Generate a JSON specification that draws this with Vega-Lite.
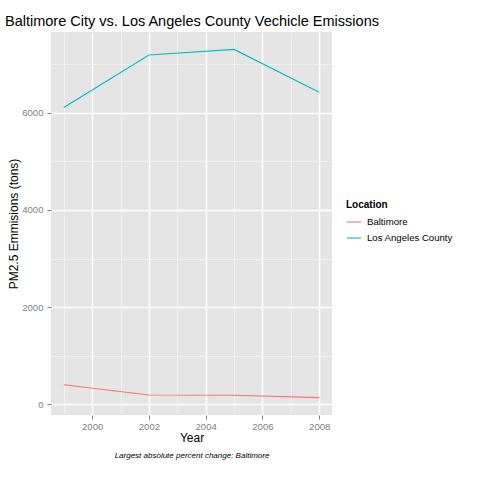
{
  "$schema": "https://vega.github.io/schema/vega-lite/v6.json",
  "width": 281,
  "height": 383,
  "autosize": {"type": "none"},
  "padding": {"left": 51, "top": 32, "right": 148, "bottom": 65},
  "background": "white",
  "title": {
    "text": "Baltimore City vs. Los Angeles County Vechicle Emissions",
    "anchor": "start",
    "frame": "group",
    "dx": -46,
    "offset": 3,
    "font": "Liberation Sans",
    "fontSize": 14.5,
    "fontWeight": "normal",
    "color": "black"
  },
  "data": {
    "values": [
      {"Location": "Baltimore", "year": 1999, "emissions": 403.77},
      {"Location": "Baltimore", "year": 2002, "emissions": 192.01},
      {"Location": "Baltimore", "year": 2005, "emissions": 185.41},
      {"Location": "Baltimore", "year": 2008, "emissions": 138.24},
      {"Location": "Los Angeles County", "year": 1999, "emissions": 6109.69},
      {"Location": "Los Angeles County", "year": 2002, "emissions": 7188.68},
      {"Location": "Los Angeles County", "year": 2005, "emissions": 7304.11},
      {"Location": "Los Angeles County", "year": 2008, "emissions": 6421.02}
    ]
  },
  "layer": [
    {
      "mark": {"type": "line", "opacity": 0},
      "encoding": {
        "x": {
          "field": "year", "type": "quantitative",
          "scale": {"domain": [1998.55, 2008.45], "nice": false, "zero": false},
          "axis": {
            "orient": "bottom",
            "values": [1999, 2001, 2003, 2005, 2007],
            "grid": true, "gridColor": "#F2F2F2", "gridWidth": 0.8,
            "labels": false, "ticks": false, "domain": false,
            "title": "Largest absolute percent change: Baltimore",
            "titleFont": "Liberation Sans", "titleFontSize": 8,
            "titleFontStyle": "italic", "titleFontWeight": "normal",
            "titleColor": "black", "titlePadding": 36
          }
        },
        "y": {
          "field": "emissions", "type": "quantitative",
          "scale": {"domain": [-220, 7662], "nice": false, "zero": false},
          "axis": {
            "orient": "left",
            "values": [1000, 3000, 5000, 7000],
            "grid": true, "gridColor": "#F2F2F2", "gridWidth": 0.8,
            "labels": false, "ticks": false, "domain": false, "title": null
          }
        }
      }
    },
    {
      "mark": {"type": "line", "strokeWidth": 1.1},
      "encoding": {
        "x": {
          "field": "year", "type": "quantitative",
          "scale": {"domain": [1998.55, 2008.45], "nice": false, "zero": false},
          "axis": {
            "orient": "bottom",
            "values": [2000, 2002, 2004, 2006, 2008],
            "format": "d",
            "grid": true, "gridColor": "white", "gridWidth": 1.5,
            "domain": false,
            "ticks": true, "tickColor": "#7F7F7F", "tickSize": 4, "tickWidth": 1,
            "labelColor": "#7F7F7F", "labelFont": "Liberation Sans", "labelFontSize": 9.6,
            "labelPadding": 2,
            "title": "Year",
            "titleFont": "Liberation Sans", "titleFontSize": 12, "titleFontWeight": "normal",
            "titleColor": "black", "titlePadding": 2
          }
        },
        "y": {
          "field": "emissions", "type": "quantitative",
          "scale": {"domain": [-220, 7662], "nice": false, "zero": false},
          "axis": {
            "orient": "left",
            "values": [0, 2000, 4000, 6000],
            "format": "d",
            "grid": true, "gridColor": "white", "gridWidth": 1.5,
            "domain": false,
            "ticks": true, "tickColor": "#7F7F7F", "tickSize": 4, "tickWidth": 1,
            "labelColor": "#7F7F7F", "labelFont": "Liberation Sans", "labelFontSize": 9.6,
            "labelPadding": 4,
            "title": "PM2.5 Emmisions (tons)",
            "titleFont": "Liberation Sans", "titleFontSize": 12, "titleFontWeight": "normal",
            "titleColor": "black", "titlePadding": 1
          }
        },
        "color": {
          "field": "Location", "type": "nominal",
          "scale": {"domain": ["Baltimore", "Los Angeles County"], "range": ["#F8766D", "#00BFC4"]},
          "legend": {
            "orient": "none",
            "legendX": 295,
            "legendY": 168,
            "title": "Location",
            "titleFont": "Liberation Sans", "titleFontSize": 10, "titleFontWeight": "bold",
            "titleColor": "black", "titlePadding": 4,
            "labelFont": "Liberation Sans", "labelFontSize": 9.6, "labelColor": "black",
            "symbolType": "stroke", "symbolSize": 196, "symbolStrokeWidth": 1.1,
            "rowPadding": 3, "labelOffset": 5
          }
        }
      }
    }
  ],
  "resolve": {"axis": {"x": "independent", "y": "independent"}},
  "config": {
    "view": {"fill": "#E5E5E5", "stroke": null}
  }
}
